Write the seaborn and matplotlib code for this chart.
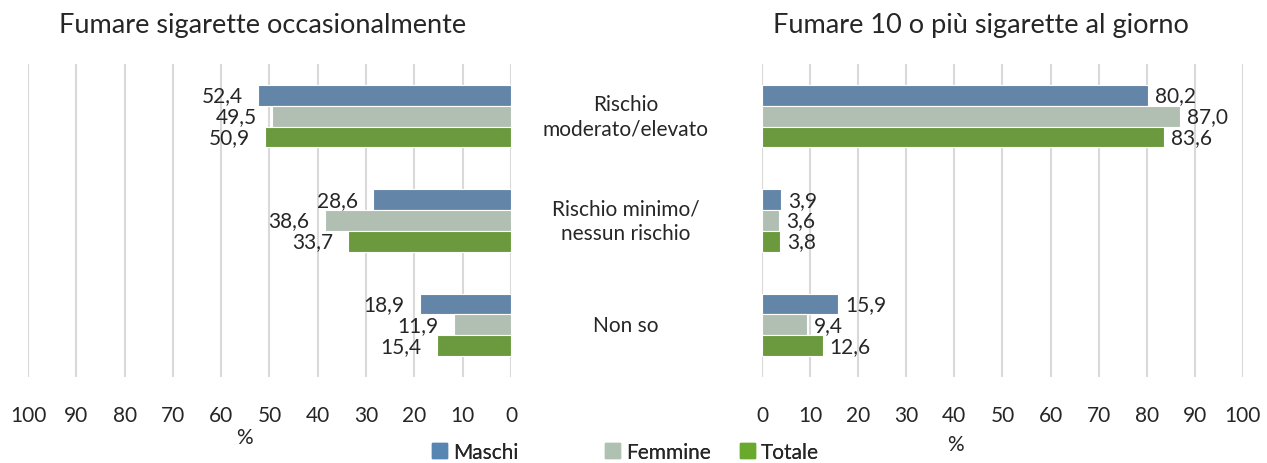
import pandas as pd
import matplotlib.pyplot as plt
import seaborn as sns
from matplotlib.patches import Patch

# data
categorie = ['Rischio\nmoderato/elevato', 'Rischio minimo/\nnessun rischio', 'Non so']
gruppi = ['Maschi', 'Femmine', 'Totale']
occasionale = {'Maschi': [52.4, 28.6, 18.9],
               'Femmine': [49.5, 38.6, 11.9],
               'Totale': [50.9, 33.7, 15.4]}
dieci_al_giorno = {'Maschi': [80.2, 3.9, 15.9],
                   'Femmine': [87.0, 3.6, 9.4],
                   'Totale': [83.6, 3.8, 12.6]}
ticks = list(range(0, 101, 10))
colori = ['#5886B3', '#AFC1B1', '#69A92E']


def to_long(d):
    rows = []
    for g in gruppi:
        for c, v in zip(categorie, d[g]):
            rows.append({'cat': c, 'gruppo': g, 'val': v})
    return pd.DataFrame(rows)


sns.set_style('white')
plt.rcParams['font.family'] = ['Lato', 'DejaVu Sans']

fig = plt.figure(figsize=(12.67, 4.64), dpi=100)
ax_l = fig.add_axes([0.0221, 0.1853, 0.3812, 0.6746])
ax_r = fig.add_axes([0.6014, 0.1853, 0.3796, 0.6746])


def draw(ax, d, left):
    df = to_long(d)
    sns.barplot(data=df, y='cat', x='val', hue='gruppo', orient='h',
                palette=colori, width=0.6, ax=ax, legend=False,
                edgecolor='white', linewidth=0.8, zorder=3)
    ax.set_xlim(0, 100)
    if left:
        ax.invert_xaxis()
    ax.set_ylim(2.5, -0.5)
    ax.set_xticks(ticks)
    ax.set_xticklabels([str(t) for t in ticks], fontsize=15)
    ax.tick_params(axis='x', length=0, pad=20)
    ax.set_yticks([])
    ax.set_xlabel('')
    ax.set_ylabel('')
    ax.grid(axis='x', color='#D9D9D9', linewidth=1.5, zorder=0)
    for s in ax.spines.values():
        s.set_visible(False)
    for cont in ax.containers:
        lab = [f'{v:.1f}'.replace('.', ',') for v in cont.datavalues]
        ax.bar_label(cont, labels=lab, fontsize=15, padding=11 if left else 5)


draw(ax_l, occasionale, True)
draw(ax_r, dieci_al_giorno, False)

fig.text(0.207, 0.945, 'Fumare sigarette occasionalmente', ha='center', va='center', fontsize=19.5)
fig.text(0.774, 0.945, 'Fumare 10 o più sigarette al giorno', ha='center', va='center', fontsize=19.5)

for i, c in enumerate(categorie):
    y = 0.86 - (i + 0.5) * 0.6746 / 3
    fig.text(0.494, y, c, ha='center', va='center', fontsize=15, linespacing=1.3)

fig.text(0.193, 0.055, '%', ha='center', va='center', fontsize=15)
fig.text(0.754, 0.04, '%', ha='center', va='center', fontsize=15)

# legend entries placed one by one
leg_x = [432, 605, 740]
for c, g, x in zip(colori, gruppi, leg_x):
    lg = fig.legend(handles=[Patch(color=c, label=g)], loc='center left',
                    bbox_to_anchor=(x / 1267, 0.024), frameon=False, fontsize=15,
                    handlelength=0.7, handleheight=0.7, handletextpad=0.3,
                    borderpad=0, borderaxespad=0)
    fig.add_artist(lg)

fig.savefig('out.png', dpi=100)
